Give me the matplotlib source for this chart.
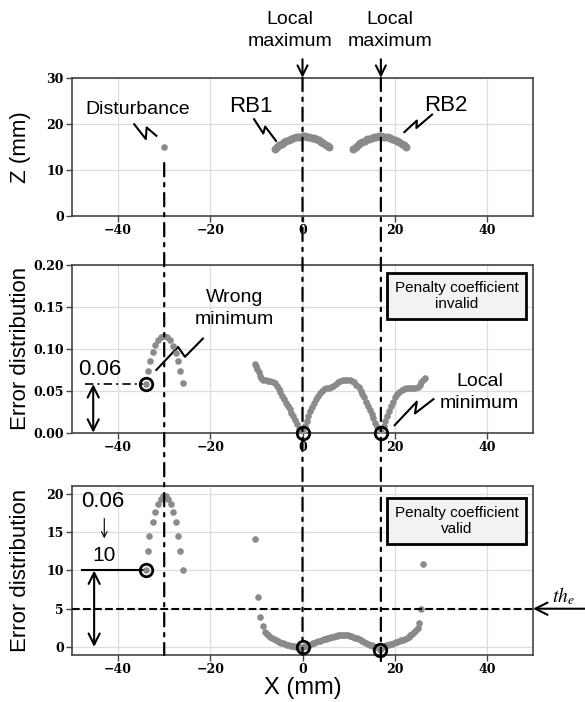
import matplotlib.pyplot as plt
from matplotlib.patches import ConnectionPatch
from matplotlib.transforms import blended_transform_factory

plt.rcParams['font.family'] = ['Liberation Sans', 'DejaVu Sans']
plt.rcParams['mathtext.fontset'] = 'stix'

# ---- values ----
dist_x = [-30.0]
dist_z = [15.0]

rb1_x = [-6.0, -5.5, -5.0, -4.5, -4.0, -3.5, -3.0, -2.5, -2.0, -1.5, -1.0, -0.5, 0.0,
         0.5, 1.0, 1.5, 2.0, 2.5, 3.0, 3.5, 4.0, 4.5, 5.0, 5.5, 5.8]
rb1_z = [14.6, 15.0, 15.4, 15.7, 16.0, 16.3, 16.5, 16.7, 16.9, 17.05, 17.15, 17.2, 17.25,
         17.25, 17.2, 17.1, 17.0, 16.85, 16.65, 16.4, 16.15, 15.85, 15.5, 15.15, 14.9]
rb2_x = [11.0, 11.5, 12.0, 12.5, 13.0, 13.5, 14.0, 14.5, 15.0, 15.5, 16.0, 16.5, 17.0,
         17.5, 18.0, 18.5, 19.0, 19.5, 20.0, 20.5, 21.0, 21.5, 22.0, 22.5]
rb2_z = [14.6, 15.0, 15.4, 15.75, 16.05, 16.35, 16.6, 16.8, 16.95, 17.1, 17.2, 17.25, 17.25,
         17.2, 17.15, 17.05, 16.9, 16.75, 16.55, 16.3, 16.0, 15.7, 15.35, 15.0]

# error distribution, penalty coefficient invalid
inv_peak_x = [-34.0, -33.6, -33.1, -32.5, -32.0, -31.3, -30.8, -30.1, -29.5, -28.8, -28.2,
              -27.5, -27.0, -26.6, -26.0]
inv_peak_e = [0.058, 0.074, 0.0855, 0.096, 0.1046, 0.1106, 0.1138, 0.1157, 0.1145, 0.1106,
              0.1038, 0.0954, 0.0855, 0.074, 0.059]
inv_x = [-10.4, -10.1, -9.8, -9.5, -9.2, -8.9, -8.5, -8.0, -7.5, -7.0, -6.5, -6.0, -5.6, -5.2,
         -4.8, -4.4, -4.0, -3.6, -3.2, -2.8, -2.4, -2.0, -1.6, -1.2, -0.8, 0.0, 0.5, 0.9, 1.3,
         1.7, 2.1, 2.5, 2.9, 3.3, 3.7, 4.2, 4.7, 5.2, 5.7, 6.2, 6.7, 7.2, 7.7, 8.2, 8.7, 9.2,
         9.7, 10.2, 10.7, 11.2, 11.7, 12.2, 12.6, 13.0, 13.4, 13.8, 14.2, 14.6, 15.0, 15.4,
         15.8, 16.2, 17.0, 17.6, 18.0, 18.4, 18.8, 19.2, 19.6, 20.0, 20.5, 21.0, 21.5, 22.0,
         22.5, 23.0, 23.5, 24.0, 24.5, 25.0, 25.4, 25.8, 26.2, 26.5]
inv_e = [0.082, 0.079, 0.076, 0.072, 0.068, 0.065, 0.063, 0.063, 0.062, 0.062, 0.061, 0.059,
         0.056, 0.052, 0.048, 0.044, 0.040, 0.036, 0.032, 0.028, 0.024, 0.020, 0.015, 0.010,
         0.005, 0.001, 0.008, 0.014, 0.020, 0.026, 0.031, 0.036, 0.040, 0.044, 0.047, 0.050,
         0.052, 0.053, 0.053, 0.054, 0.056, 0.058, 0.060, 0.062, 0.063, 0.063, 0.063, 0.063,
         0.062, 0.060, 0.057, 0.054, 0.050, 0.046, 0.042, 0.037, 0.032, 0.027, 0.022, 0.017,
         0.012, 0.007, 0.001, 0.008, 0.014, 0.020, 0.026, 0.032, 0.037, 0.042, 0.046, 0.049,
         0.051, 0.052, 0.053, 0.053, 0.053, 0.053, 0.053, 0.055, 0.057, 0.060, 0.063, 0.065]

# error distribution, penalty coefficient valid
val_peak_x = [-34.0, -33.6, -33.2, -32.4, -31.9, -31.3, -30.8, -30.2, -29.6, -29.1, -28.6,
              -28.0, -27.5, -27.0, -26.6, -25.9]
val_peak_e = [10.0, 12.5, 14.5, 16.3, 17.6, 18.7, 19.3, 19.8, 19.8, 19.3, 18.7, 17.6, 16.3,
              14.5, 12.5, 10.0]
val_x = [-10.2, -9.6, -9.2, -8.6, -8.2, -7.8, -7.4, -7.0, -6.6, -6.2, -5.8, -5.4, -5.0, -4.6,
         -4.2, -3.8, -3.4, -3.0, -2.6, -2.2, -1.8, -1.4, -1.0, -0.6, 0.0, 0.6, 1.0, 1.4, 1.8,
         2.2, 2.6, 3.0, 3.4, 3.8, 4.2, 4.6, 5.0, 5.4, 5.8, 6.2, 6.6, 7.0, 7.4, 7.8, 8.2, 8.6,
         9.0, 9.4, 9.8, 10.2, 10.6, 11.0, 11.4, 11.8, 12.2, 12.6, 13.0, 13.4, 13.8, 14.2, 14.6,
         15.0, 15.4, 15.8, 16.2, 16.8, 17.4, 17.8, 18.2, 18.6, 19.0, 19.4, 19.8, 20.2, 20.6,
         21.0, 21.4, 21.8, 22.2, 22.6, 23.0, 23.4, 23.8, 24.2, 24.6, 25.0, 25.3, 25.8, 26.2]
val_e = [14.1, 6.5, 3.9, 2.7, 2.0, 1.7, 1.5, 1.35, 1.2, 1.05, 0.9, 0.78, 0.66, 0.55, 0.45,
         0.36, 0.28, 0.21, 0.15, 0.10, 0.06, 0.03, 0.01, 0.0, 0.0, 0.1, 0.18, 0.27, 0.36, 0.45,
         0.55, 0.64, 0.74, 0.83, 0.92, 1.0, 1.08, 1.15, 1.22, 1.29, 1.35, 1.41, 1.46, 1.50,
         1.53, 1.55, 1.56, 1.55, 1.52, 1.47, 1.40, 1.32, 1.22, 1.11, 1.00, 0.88, 0.76, 0.64,
         0.52, 0.40, 0.29, 0.19, 0.11, 0.04, 0.0, -0.35, 0.05, 0.12, 0.2, 0.28, 0.36, 0.44,
         0.52, 0.6, 0.68, 0.77, 0.86, 0.96, 1.07, 1.2, 1.35, 1.5, 1.68, 1.9, 2.2, 2.5, 3.1,
         5.0, 10.8]

inv_circ_x = [-34.0, 0.0, 17.0]
inv_circ_e = [0.058, 0.0, 0.0]
val_circ_x = [-34.0, 0.0, 16.8]
val_circ_e = [10.0, 0.0, -0.35]

marks_x = [-30.0, 0.0, 17.0]
th_e = 5

xticks = [-40, -20, 0, 20, 40]
xlabels = ['\u221240', '\u221220', '0', '20', '40']

DOT = '#8a8a8a'
TICKFONT = dict(fontfamily='DejaVu Serif', fontweight='bold', fontsize=9)

fig = plt.figure(figsize=(5.85, 7.02), dpi=100)
ax1 = fig.add_axes([0.1231, 0.6923, 0.788, 0.197])
ax2 = fig.add_axes([0.1231, 0.3836, 0.788, 0.2389])
ax3 = fig.add_axes([0.1231, 0.0670, 0.788, 0.2407])

for ax in (ax1, ax2, ax3):
    ax.set_xlim(-50, 50)
    ax.set_xticks(xticks, xlabels, **TICKFONT)
    ax.grid(True, color='#dddddd', lw=0.9, zorder=0)
    ax.set_axisbelow(True)
    for s in ax.spines.values():
        s.set_color('#444444')
        s.set_linewidth(1.2)
    ax.tick_params(direction='out', length=4, width=1, color='#444444', pad=2)
    ax.yaxis.set_label_coords(-0.09, 0.5)

ax1.set_ylim(0, 30)
ax1.set_yticks([0, 10, 20, 30], ['0', '10', '20', '30'], **TICKFONT)
ax1.set_ylabel('Z (mm)', fontsize=16)

ax2.set_ylim(0, 0.2)
ax2.set_yticks([0, 0.05, 0.1, 0.15, 0.2], ['0.00', '0.05', '0.10', '0.15', '0.20'], **TICKFONT)
ax2.set_ylabel('Error distribution', fontsize=16)

ax3.set_ylim(-1.05, 21.05)
ax3.set_yticks([0, 5, 10, 15, 20], ['0', '5', '10', '15', '20'], **TICKFONT)
ax3.set_ylabel('Error distribution', fontsize=16)
ax3.set_xlabel('X (mm)', fontsize=17)
ax3.xaxis.set_label_coords(0.5, -0.13)

# points
ax1.scatter(dist_x, dist_z, s=14, color=DOT, zorder=3)
ax1.scatter(rb1_x, rb1_z, s=22, color=DOT, zorder=3)
ax1.scatter(rb2_x, rb2_z, s=22, color=DOT, zorder=3)
ax2.scatter(inv_peak_x, inv_peak_e, s=14, color=DOT, zorder=3)
ax2.scatter(inv_x, inv_e, s=14, color=DOT, zorder=3)
ax3.scatter(val_peak_x, val_peak_e, s=14, color=DOT, zorder=3)
ax3.scatter(val_x, val_e, s=14, color=DOT, zorder=3)

ax2.plot(inv_circ_x, inv_circ_e, 'o', mfc='none', mec='black', ms=9, mew=2,
         clip_on=False, zorder=6)
ax3.plot(val_circ_x, val_circ_e, 'o', mfc='none', mec='black', ms=9, mew=2,
         clip_on=False, zorder=6)

# dash-dot marks running through all three panels
dd = (0, (6, 3, 1.5, 3))
for x, ya, yb in zip(marks_x, [11.5, 30, 30], [-1.05, -1.05, -2.0]):
    con = ConnectionPatch(xyA=(x, ya), coordsA=ax1.transData,
                          xyB=(x, yb), coordsB=ax3.transData,
                          color='black', lw=1.6, linestyle=dd, zorder=5)
    fig.add_artist(con)

# top panel annotations
for x, tx in zip(marks_x[1:], [-2.7, 19.0]):
    ax1.text(tx, 40.3, 'Local\nmaximum', ha='center', va='center', fontsize=14,
             linespacing=1.35)
    ax1.annotate('', xy=(x, 30), xytext=(x, 34), annotation_clip=False,
                 arrowprops=dict(arrowstyle='->', lw=1.5, mutation_scale=18,
                                 shrinkA=0, shrinkB=0))
zz = dict(color='black', lw=1.5, clip_on=False)
ax1.text(-35.7, 23.0, 'Disturbance', ha='center', va='center', fontsize=14)
ax1.plot([-36.5, -34.0, -33.8, -31.7], [19.9, 16.7, 19.2, 17.4], **zz)
ax1.text(-11.3, 23.8, 'RB1', ha='center', va='center', fontsize=16)
ax1.plot([-10.5, -8.5, -8.1, -5.75], [21.0, 17.9, 19.4, 16.3], **zz)
ax1.text(31.1, 23.9, 'RB2', ha='center', va='center', fontsize=16)
ax1.plot([22.1, 24.8, 24.7, 28.1], [18.2, 20.7, 19.1, 22.0], **zz)

# middle panel annotations
box = dict(boxstyle='square,pad=0.5', facecolor='#f2f2f2', edgecolor='black', lw=2)
ax2.text(0.835, 0.815, 'Penalty coefficient\ninvalid', transform=ax2.transAxes,
         ha='center', va='center', fontsize=11, bbox=box)
ax2.text(-14.7, 0.148, 'Wrong\nminimum', ha='center', va='center', fontsize=14,
         linespacing=1.35)
ax2.plot([-31.7, -27.0, -25.5, -21.6], [0.0749, 0.1023, 0.0905, 0.1123], **zz)
ax2.text(38.4, 0.048, 'Local\nminimum', ha='center', va='center', fontsize=14,
         linespacing=1.35)
ax2.plot([20.0, 24.8, 24.4, 28.4], [0.009, 0.037, 0.023, 0.040], **zz)
ax2.text(-43.9, 0.0748, '0.06', ha='center', va='center', fontsize=16)
ax2.plot([-47.2, -34.6], [0.058, 0.058], color='black', lw=1.2, ls=(0, (5, 2.5, 1.2, 2.5)))
ax2.annotate('', xy=(-45.4, 0.0), xytext=(-45.4, 0.058), annotation_clip=False,
             arrowprops=dict(arrowstyle='<->', lw=1.5, mutation_scale=20,
                             shrinkA=0, shrinkB=0))

# bottom panel annotations
ax3.text(0.835, 0.793, 'Penalty coefficient\nvalid', transform=ax3.transAxes,
         ha='center', va='center', fontsize=11, bbox=box)
ax3.text(-43.3, 19.0, '0.06', ha='center', va='center', fontsize=16)
ax3.annotate('', xy=(-43.0, 14.2), xytext=(-43.0, 16.8),
             arrowprops=dict(arrowstyle='->', lw=0.8, mutation_scale=10,
                             shrinkA=0, shrinkB=0))
ax3.text(-43.1, 12.0, '10', ha='center', va='center', fontsize=15)
ax3.plot([-47.8, -34.6], [10, 10], color='black', lw=1.5)
ax3.annotate('', xy=(-45.2, 0.0), xytext=(-45.2, 10.0), annotation_clip=False,
             arrowprops=dict(arrowstyle='<->', lw=1.5, mutation_scale=20,
                             shrinkA=0, shrinkB=0))
ax3.axhline(th_e, color='black', ls='--', lw=1.5, zorder=4)
tr = blended_transform_factory(ax3.transAxes, ax3.transData)
ax3.annotate('', xy=(1.0, th_e), xycoords=tr, xytext=(1.115, th_e), textcoords=tr,
             annotation_clip=False,
             arrowprops=dict(arrowstyle='->', lw=1.5, mutation_scale=22,
                             shrinkA=0, shrinkB=0))
ax3.text(1.065, 6.6, '$th_e$', transform=tr, ha='center', va='center', fontsize=14)

fig.savefig('out.png', dpi=100)
